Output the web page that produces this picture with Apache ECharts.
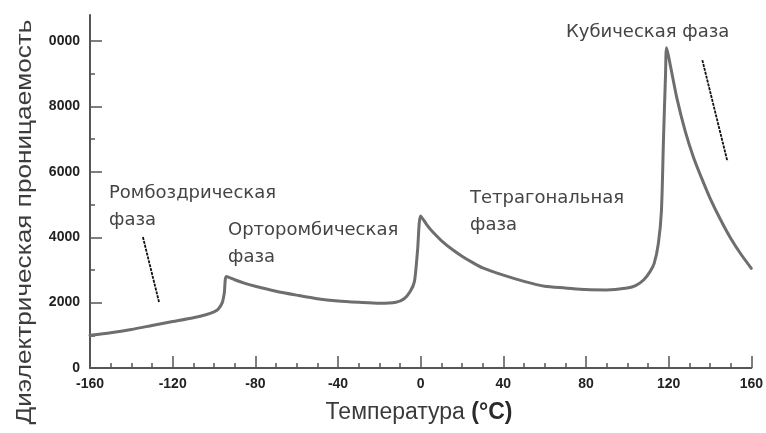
<!DOCTYPE html>
<html>
<head>
<meta charset="utf-8">
<script src="https://cdn.jsdelivr.net/npm/echarts@6/dist/echarts.min.js"></script>
<style>html,body{margin:0;padding:0;background:#fff;}#c{width:766px;height:433px;}</style>
</head>
<body>
<div id="c"></div>
<script>
// Temperature (°C)
var temps = [-160,-150,-140,-130,-120,-110,-104,-100,-98,-96,-95,-94,-90,-85,-80,-70,-60,-50,-40,-30,-20,-12,-8,-5,-3,-1.5,0,3,6,10,15,20,25,30,40,50,60,70,80,90,100,104,108,111,113,115,116.5,117.5,118.5,119,121,124,128,132,136,140,145,150,155,160];
// Dielectric permittivity
var permittivity = [1000,1080,1180,1300,1420,1540,1630,1720,1800,2000,2300,2800,2700,2590,2500,2350,2230,2120,2050,2010,1980,2010,2120,2350,2650,3600,4650,4380,4150,3900,3640,3420,3230,3060,2840,2650,2500,2450,2400,2390,2450,2520,2700,2950,3200,3800,4800,7000,9000,9800,9200,8250,7250,6450,5800,5200,4550,3970,3480,3050];
var xTicks = [-160,-120,-80,-40,0,40,80,120,160];
var yLabelValues = [0,2000,4000,6000,8000,10000];
var yLabelTexts = ['0','2000','4000','6000','8000','0000'];
var yMajorTicks = [0,2000,4000,6000,8000,10000];
var yMinorTicks = [1000,3000,5000,7000,9000];
// Pointer lines [T, value] pairs
var pointer1 = [[-134.4,4006],[-126.6,2018]];
var pointer2 = [[136.3,9419],[148.4,6330]];

var chart = echarts.init(document.getElementById('c'));
var data = temps.map(function(t,i){return [t, permittivity[i]];});
var axisColor = '#555';
var labelFont = 'Liberation Sans, Arial, sans-serif';
var annFont = 'DejaVu Sans, sans-serif';
var annColor = '#444';

chart.setOption({
  animation:false,
  backgroundColor:'#fff',
  grid:{left:90, right:14, top:15, bottom:65, containLabel:false},
  xAxis:{
    type:'value', min:-160, max:160, interval:40,
    axisLine:{show:true, onZero:false, lineStyle:{color:axisColor, width:2}},
    axisTick:{show:true, inside:true, length:12, lineStyle:{color:axisColor, width:1.5}},
    minorTick:{show:true, splitNumber:4, length:5, lineStyle:{color:axisColor, width:1.5}},
    splitLine:{show:false},
    axisLabel:{margin:9, customValues:xTicks, color:'#222', fontWeight:'bold', fontSize:14, fontFamily:labelFont}
  },
  yAxis:[{
    type:'value', min:0, max:10800,
    axisLine:{show:true, onZero:false, lineStyle:{color:axisColor, width:2}},
    axisTick:{show:true, inside:true, length:12, customValues:yMajorTicks, lineStyle:{color:axisColor, width:1.5}},
    splitLine:{show:false},
    axisLabel:{margin:10, customValues:yLabelValues, color:'#222', fontWeight:'bold', fontSize:14, fontFamily:labelFont,
      formatter:function(v){var i=yLabelValues.indexOf(v);return i>=0?yLabelTexts[i]:'';}}
  },{
    type:'value', min:0, max:10800, position:'left',
    axisLine:{show:false, onZero:false},
    axisTick:{show:true, inside:true, length:5, customValues:yMinorTicks, lineStyle:{color:axisColor, width:1.5}},
    axisLabel:{show:false},
    splitLine:{show:false}
  }],
  series:[{
    type:'line', data:data, yAxisIndex:0, showSymbol:false, symbol:'none',
    smooth:0.25,
    lineStyle:{color:'#6e6e6e', width:3, join:'round', cap:'round'},
    markLine:{
      silent:true, symbol:['none','none'], label:{show:false},
      lineStyle:{color:'#111', width:1.8, type:[3,1]},
      data:[
        [{coord:pointer1[0]},{coord:pointer1[1]}],
        [{coord:pointer2[0]},{coord:pointer2[1]}]
      ]
    }
  }],
  graphic:[
    {type:'text', x:25, y:222, rotation:Math.PI/2, scaleX:1.19,
     style:{text:'Диэлектрическая проницаемость', fontSize:22, fontFamily:labelFont, fill:'#3c3c3c', textAlign:'center', textVerticalAlign:'middle'}},
    {type:'text', x:419, y:413,
     style:{text:'{a|Температура }{b|(°C)}', fill:'#333', textAlign:'center', textVerticalAlign:'middle',
       rich:{a:{fontSize:23, fontFamily:labelFont, fill:'#3a3a3a'}, b:{fontSize:23, fontWeight:'bold', fontFamily:labelFont, fill:'#2a2a2a'}}}},
    {type:'text', x:109, y:180,
     style:{text:'Ромбоздрическая\nфаза', fontSize:18, lineHeight:27, fontFamily:annFont, fill:annColor}},
    {type:'text', x:228, y:217,
     style:{text:'Орторомбическая\nфаза', fontSize:18, lineHeight:27, fontFamily:annFont, fill:annColor}},
    {type:'text', x:470, y:185,
     style:{text:'Тетрагональная\nфаза', fontSize:18, lineHeight:27, fontFamily:annFont, fill:annColor}},
    {type:'text', x:566, y:19,
     style:{text:'Кубическая фаза', fontSize:18, lineHeight:27, fontFamily:annFont, fill:annColor}}
  ]
});
</script>
</body>
</html>
